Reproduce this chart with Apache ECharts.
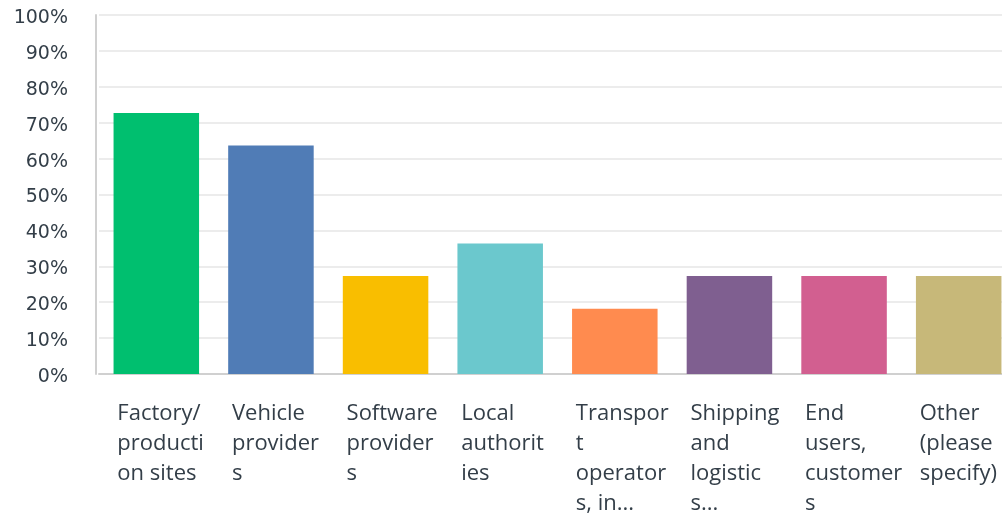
<!DOCTYPE html>
<html>
<head>
<meta charset="utf-8">
<script src="https://cdn.jsdelivr.net/npm/echarts@6/dist/echarts.min.js"></script>
<style>
  html, body { margin: 0; padding: 0; background: #fff; }
  #chart { width: 1002px; height: 514px; }
</style>
</head>
<body>
<div id="chart"></div>
<script>
// Answer choices (wrapped the way the survey tool breaks them)
const categories = [
  'Factory/\nproducti\non sites',
  'Vehicle\nprovider\ns',
  'Software\nprovider\ns',
  'Local\nauthorit\nies',
  'Transpor\nt\noperator\ns, in...',
  'Shipping\nand\nlogistic\ns...',
  'End\nusers,\ncustomer\ns',
  'Other\n(please\nspecify)'
];
// Share of respondents, percent
const values = [72.73, 63.64, 27.27, 36.36, 18.18, 27.27, 27.27, 27.27];
const barColors = ['#00BF6F', '#507CB6', '#F9BE00', '#6BC8CD', '#FF8B4F', '#7F5F90', '#D25F90', '#C7B879'];

const chart = echarts.init(document.getElementById('chart'), null, { renderer: 'canvas' });

chart.setOption({
  animation: false,
  backgroundColor: '#ffffff',
  // plot runs a little past the right edge of the canvas
  grid: {
    left: 99, width: 917, top: 15, bottom: 140,
    containLabel: false,
    outerBoundsMode: 'none'
  },
  xAxis: {
    type: 'category',
    data: categories,
    axisLine: { show: true, lineStyle: { color: '#d0d0d0', width: 2 } },
    axisTick: { show: false },
    axisLabel: {
      interval: 0,
      margin: 25,
      align: 'center',
      verticalAlign: 'top',
      hideOverlap: false,
      formatter: function (v) {
        return v.split('\n').map(function (l) { return '{a|' + l + '}'; }).join('\n');
      },
      rich: {
        a: {
          width: 78,
          align: 'left',
          lineHeight: 30,
          fontSize: 22,
          fontFamily: 'Open Sans',
          color: '#333e48'
        }
      }
    }
  },
  yAxis: {
    type: 'value',
    min: 0,
    max: 100,
    interval: 10,
    offset: 3,
    axisLine: { show: true, lineStyle: { color: '#d0d0d0', width: 2 } },
    axisTick: { show: false },
    splitLine: { show: true, lineStyle: { color: '#ececec', width: 2 } },
    axisLabel: {
      margin: 28,
      formatter: function (v) { return '{p|' + v + '%}'; },
      rich: {
        p: {
          padding: [6, 0, 0, 0],
          fontSize: 19,
          fontFamily: 'DejaVu Sans',
          color: '#333e48'
        }
      }
    }
  },
  series: [{
    type: 'bar',
    data: values.map(function (v, i) {
      return { value: v, itemStyle: { color: barColors[i] } };
    }),
    barWidth: '74.6%'
  }]
});
</script>
</body>
</html>
